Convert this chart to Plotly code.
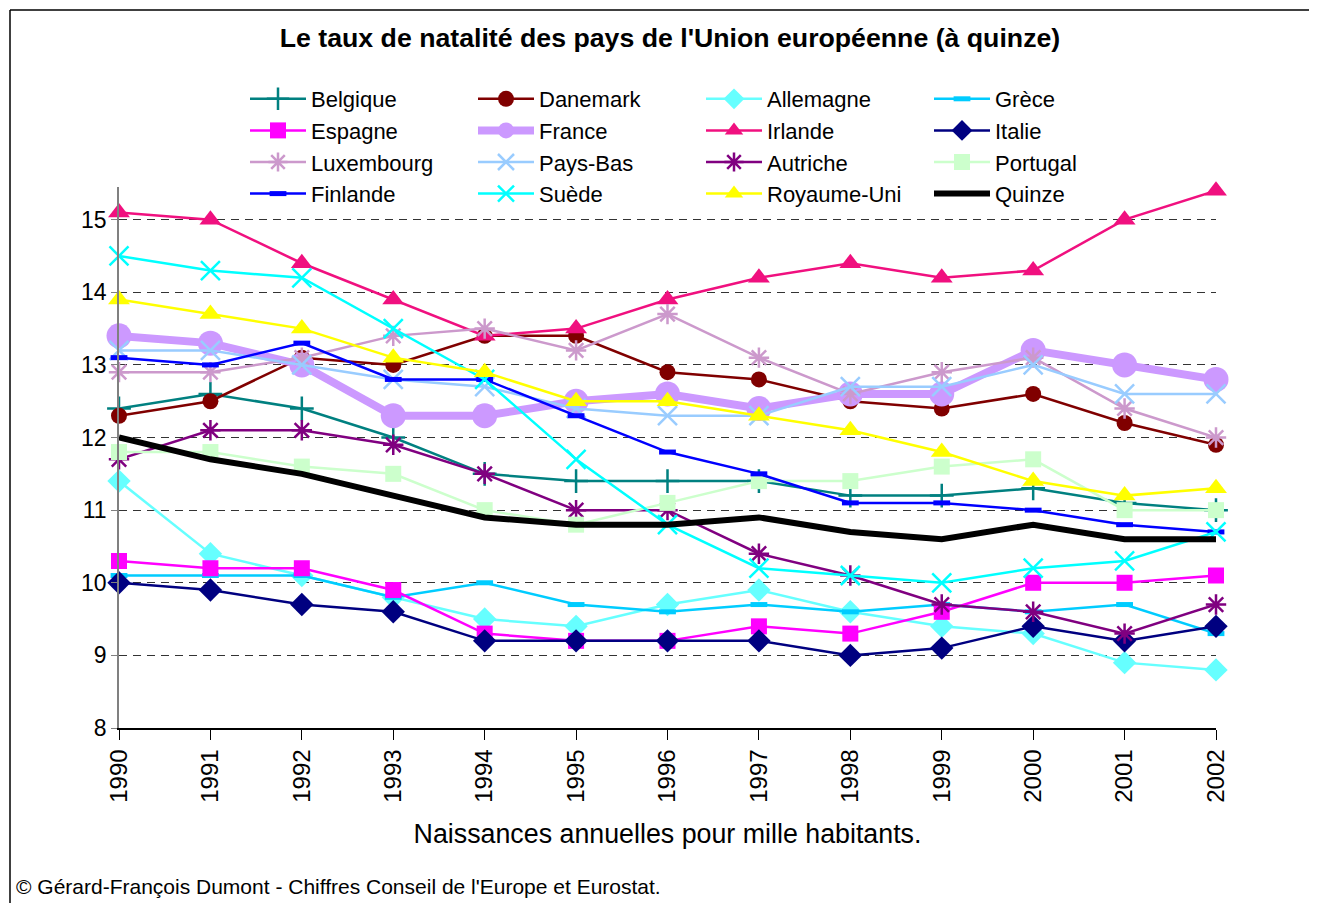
import plotly.graph_objects as go

# Taux de natalité, UE à quinze, 1990-2002 (naissances pour 1000 habitants)
years = list(range(1990, 2003))

belgique = [12.4, 12.6, 12.4, 12.0, 11.5, 11.4, 11.4, 11.4, 11.2, 11.2, 11.3, 11.1, 11.0]
danemark = [12.3, 12.5, 13.1, 13.0, 13.4, 13.4, 12.9, 12.8, 12.5, 12.4, 12.6, 12.2, 11.9]
allemagne = [11.4, 10.4, 10.1, 9.8, 9.5, 9.4, 9.7, 9.9, 9.6, 9.4, 9.3, 8.9, 8.8]
grece = [10.1, 10.1, 10.1, 9.8, 10.0, 9.7, 9.6, 9.7, 9.6, 9.7, 9.6, 9.7, 9.3]
espagne = [10.3, 10.2, 10.2, 9.9, 9.3, 9.2, 9.2, 9.4, 9.3, 9.6, 10.0, 10.0, 10.1]
france = [13.4, 13.3, 13.0, 12.3, 12.3, 12.5, 12.6, 12.4, 12.6, 12.6, 13.2, 13.0, 12.8]
irlande = [15.1, 15.0, 14.4, 13.9, 13.4, 13.5, 13.9, 14.2, 14.4, 14.2, 14.3, 15.0, 15.4]
italie = [10.0, 9.9, 9.7, 9.6, 9.2, 9.2, 9.2, 9.2, 9.0, 9.1, 9.4, 9.2, 9.4]
luxembourg = [12.9, 12.9, 13.1, 13.4, 13.5, 13.2, 13.7, 13.1, 12.6, 12.9, 13.1, 12.4, 12.0]
pays_bas = [13.2, 13.2, 13.0, 12.8, 12.7, 12.4, 12.3, 12.3, 12.7, 12.7, 13.0, 12.6, 12.6]
autriche = [11.7, 12.1, 12.1, 11.9, 11.5, 11.0, 11.0, 10.4, 10.1, 9.7, 9.6, 9.3, 9.7]
portugal = [11.8, 11.8, 11.6, 11.5, 11.0, 10.8, 11.1, 11.4, 11.4, 11.6, 11.7, 11.0, 11.0]
finlande = [13.1, 13.0, 13.3, 12.8, 12.8, 12.3, 11.8, 11.5, 11.1, 11.1, 11.0, 10.8, 10.7]
suede = [14.5, 14.3, 14.2, 13.5, 12.8, 11.7, 10.8, 10.2, 10.1, 10.0, 10.2, 10.3, 10.7]
royaume_uni = [13.9, 13.7, 13.5, 13.1, 12.9, 12.5, 12.5, 12.3, 12.1, 11.8, 11.4, 11.2, 11.3]
quinze = [12.0, 11.7, 11.5, 11.2, 10.9, 10.8, 10.8, 10.9, 10.7, 10.6, 10.8, 10.6, 10.6]

FONT = "Liberation Sans, Arial, sans-serif"

# page body has an 8px margin, so the figure is 8px smaller and everything shifted
W, H = 1309, 895
L, T = 111, 179          # plot area top-left inside the figure
PW, PH = 1097, 541       # plot area size


def px(xp):
    return (xp - L) / PW


def py(yp):
    return (T + PH - yp) / PH


# name, values, colour, symbol, marker size, line width
series = [
    ("Belgique", belgique, "#008080", "cross-thin-open", 17, 2.5),
    ("Danemark", danemark, "#800000", "circle", 16, 2.5),
    ("Allemagne", allemagne, "#66FFFF", "diamond", 18, 2.5),
    ("Grèce", grece, "#00CCFF", "line-ew-open", 12, 2.5),
    ("Espagne", espagne, "#FF00FF", "square", 16, 2.5),
    ("France", france, "#CC99FF", "circle", 25, 8),
    ("Irlande", irlande, "#F0107F", "triangle-up", 19, 2.5),
    ("Italie", italie, "#000080", "diamond", 18, 2.5),
    ("Luxembourg", luxembourg, "#CC99CC", "asterisk-open", 17, 2.5),
    ("Pays-Bas", pays_bas, "#99CCFF", "x-thin-open", 19, 2.5),
    ("Autriche", autriche, "#800080", "asterisk-open", 17, 2.5),
    ("Portugal", portugal, "#CCFFCC", "square", 16, 2.5),
    ("Finlande", finlande, "#0000FF", "line-ew-open", 12, 2.5),
    ("Suède", suede, "#00FFFF", "x-thin-open", 19, 2.5),
    ("Royaume-Uni", royaume_uni, "#FFFF00", "triangle-up", 19, 2.5),
    ("Quinze", quinze, "#000000", None, 0, 6),
]

fig = go.Figure()
for name, vals, col, sym, size, lw in series:
    if sym is None:
        fig.add_trace(go.Scatter(x=years, y=vals, name=name, mode="lines",
                                 line=dict(color=col, width=lw)))
        continue
    mline = dict(color=col, width=2.5 if "open" in sym else 0)
    if sym == "line-ew-open":
        mline["width"] = 5
    fig.add_trace(go.Scatter(
        x=years, y=vals, name=name, mode="lines+markers",
        line=dict(color=col, width=lw),
        marker=dict(symbol=sym, size=size, color=col, line=mline),
        cliponaxis=False,
    ))

# cadre autour du graphique (bords droit et bas hors de l'image)
fig.add_shape(type="line", xref="paper", yref="paper",
              x0=px(2), x1=px(1400), y0=py(2), y1=py(2),
              line=dict(color="#000000", width=1.5), layer="below")
fig.add_shape(type="line", xref="paper", yref="paper",
              x0=px(2), x1=px(2), y0=py(2), y1=py(960),
              line=dict(color="#000000", width=1.5), layer="below")

fig.add_annotation(text="© Gérard-François Dumont - Chiffres Conseil de l'Europe et Eurostat.",
                   xref="paper", yref="paper", x=px(6), y=py(878),
                   xanchor="left", yanchor="middle", showarrow=False,
                   font=dict(family=FONT, size=21, color="#000000"))

fig.update_layout(
    width=W, height=H,
    margin=dict(l=L, r=W - L - PW, t=T, b=H - T - PH),
    paper_bgcolor="white", plot_bgcolor="white",
    font=dict(family=FONT, size=23, color="#000000"),
    title=dict(text="<b>Le taux de natalité des pays de l'Union européenne (à quinze)</b>",
               x=662 / W, xanchor="center", y=1 - 30 / H, yanchor="middle",
               font=dict(family=FONT, size=26.7, color="#000000")),
    showlegend=True,
    legend=dict(orientation="h", x=px(237), xanchor="left", yref="paper",
                y=py(70), yanchor="top", entrywidth=157, entrywidthmode="pixels",
                itemwidth=56, font=dict(family=FONT, size=22), tracegroupgap=0,
                bgcolor="rgba(0,0,0,0)"),
    xaxis=dict(range=[1990, 2002], tickvals=years, ticktext=[str(y) for y in years],
               tickangle=-90, ticks="outside", ticklen=10, tickcolor="#000000",
               showline=True, linecolor="#000000", linewidth=1.5, showgrid=False,
               zeroline=False, tickfont=dict(family=FONT, size=24),
               title=dict(text="Naissances annuelles pour mille habitants.",
                          font=dict(family=FONT, size=26.8), standoff=22)),
    yaxis=dict(range=[8, 15.45], tickvals=[8, 9, 10, 11, 12, 13, 14, 15],
               ticks="outside", ticklen=6, tickcolor="#808080",
               showline=True, linecolor="#808080", linewidth=1.5,
               showgrid=True, gridcolor="#333333", gridwidth=1, griddash="8px,6px",
               zeroline=False, tickfont=dict(family=FONT, size=23)),
)

fig.write_html("out.html")
